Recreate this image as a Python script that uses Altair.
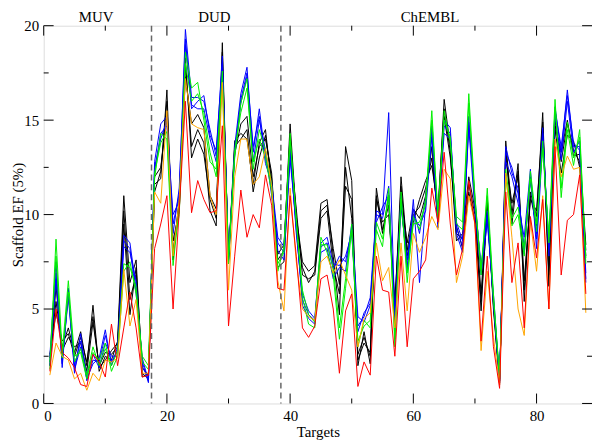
import altair as alt
import pandas as pd

# ---------------- data ----------------
# targets 1..17 MUV, 18..38 DUD, 39..88 ChEMBL
black_a = [2.4,5.4,3.0,4.0,2.7,3.8,2.0,5.2,1.7,2.5,2.3,3.3,11.0,6.4,7.6,1.6,1.3,
           11.6,11.9,16.6,8.0,10.6,17.9,13.6,14.5,13.8,10.2,9.4,19.1,7.4,13.6,14.0,14.5,11.2,13.0,14.2,11.9,7.6,
           8.1,14.8,9.9,7.5,7.0,7.3,10.6,10.8,7.8,4.7,13.6,11.8,2.0,3.8,2.1,11.4,9.2,10.5,5.0,12.0,8.1,10.0,
           10.4,11.4,13.0,9.9,16.1,13.6,9.0,8.7,11.6,10.0,4.9,10.6,5.0,1.1,13.9,10.0,12.7,5.4,11.2,9.9,
           15.4,6.2,15.0,12.8,14.8,13.4,12.8,8.1]
black_b = [2.0,6.2,2.8,3.5,3.0,3.2,1.7,4.3,2.0,2.7,2.6,3.0,9.5,4.7,7.2,1.9,1.5,
           12.0,12.5,15.2,8.6,10.2,17.3,14.8,15.3,14.6,11.0,10.3,18.0,7.8,13.2,14.8,15.2,12.0,13.6,14.0,12.2,7.2,
           7.5,13.5,10.3,6.8,6.6,6.8,9.8,10.2,7.3,5.8,11.5,10.8,2.6,3.5,2.5,10.8,9.6,10.0,5.5,11.0,8.5,10.3,
           9.8,11.0,13.6,9.5,15.2,13.0,9.4,8.2,11.2,9.6,5.4,10.2,5.4,1.2,13.0,10.6,12.0,6.0,11.0,9.4,
           14.6,6.8,14.5,12.2,14.2,13.9,12.5,7.8]
black_c = [2.6,4.8,3.3,3.7,2.5,3.5,2.2,4.6,1.9,2.3,2.8,3.2,10.2,5.5,6.8,1.4,1.6,
           11.2,12.3,16.0,7.6,10.9,18.3,13.0,14.0,13.2,10.8,9.8,18.6,7.6,13.9,14.3,14.0,11.6,13.8,14.5,11.5,7.9,
           8.4,14.2,9.6,7.2,6.4,7.0,10.2,10.5,8.2,6.3,12.5,9.8,2.3,3.2,2.7,11.0,9.0,11.0,4.6,11.5,7.8,9.6,
           10.8,11.8,12.6,10.3,15.6,13.3,8.6,9.0,12.0,10.3,5.8,10.9,5.2,1.0,13.5,9.5,12.3,6.5,10.8,10.2,
           14.9,7.0,14.7,13.3,15.0,13.1,13.2,8.4]
blue_a = [2.5,7.5,1.9,6.1,1.6,3.7,1.2,2.3,2.2,3.6,2.2,2.8,8.9,8.5,6.1,2.2,1.1,
          12.8,14.8,15.2,9.5,11.1,19.8,16.2,16.2,16.0,14.5,13.1,18.4,7.6,13.6,16.4,17.8,13.3,15.6,13.0,11.4,8.5,
          8.0,13.3,9.2,5.5,4.7,4.4,8.3,8.5,7.1,7.8,7.5,9.2,4.1,4.6,5.6,10.2,10.0,15.4,4.5,10.8,7.2,10.8,
          6.4,10.6,14.7,9.6,14.7,14.3,9.3,8.3,15.2,10.6,7.3,9.9,5.5,1.2,13.3,12.5,11.1,8.2,12.0,8.7,
          14.3,8.2,15.7,13.3,16.6,13.6,13.6,6.6]
blue_b = [2.2,6.6,2.3,5.6,2.0,3.3,1.5,2.6,1.9,3.2,2.5,2.5,8.3,8.0,6.5,1.9,1.4,
          12.3,14.3,14.7,10.0,10.7,19.0,15.8,15.6,15.6,14.0,12.8,17.8,7.4,13.1,15.9,17.3,12.8,15.0,13.4,11.0,8.1,
          7.6,12.9,9.5,5.2,4.5,4.2,8.0,8.2,6.6,7.2,7.0,9.5,4.6,4.3,5.2,9.6,10.4,11.0,3.9,10.4,7.6,9.9,
          9.4,10.2,14.1,9.9,14.3,14.0,9.6,8.6,14.6,10.2,6.8,9.6,5.8,1.3,12.8,12.0,10.6,8.8,12.4,8.2,
          13.8,8.6,15.2,12.9,16.0,13.3,13.9,6.9]
blue_c = [2.0,6.9,2.1,5.8,1.8,3.0,1.3,2.1,2.4,3.9,2.0,3.0,8.6,8.2,5.8,2.4,1.2,
          12.5,14.0,15.0,9.0,11.4,19.3,15.6,16.0,16.3,14.2,13.4,18.0,7.9,13.3,16.1,17.5,13.6,15.2,12.7,11.7,8.8,
          8.3,13.6,9.0,5.8,4.9,4.5,8.5,8.8,7.4,7.3,7.8,9.0,3.8,4.8,5.3,10.0,9.8,11.5,4.2,11.0,7.0,10.3,
          9.0,10.9,14.4,9.3,15.0,14.6,9.0,8.0,14.9,10.9,7.0,10.2,5.3,1.1,13.6,12.2,11.4,7.9,11.8,9.0,
          14.6,7.8,15.5,13.6,16.3,13.8,13.4,6.4]
green_a = [1.8,8.7,2.7,6.5,2.5,2.7,1.3,2.7,2.3,3.2,1.7,2.5,7.0,7.5,5.8,2.5,2.0,
           11.9,14.3,14.0,7.3,10.4,18.6,16.7,17.0,15.0,12.8,12.4,17.6,7.8,13.0,15.9,17.2,12.4,14.5,13.4,11.6,7.0,
           8.3,14.3,9.5,6.0,4.7,4.3,8.8,8.0,6.8,3.4,6.1,9.2,3.0,4.4,4.0,9.2,8.3,11.4,3.0,11.2,6.4,9.9,
           9.2,10.8,15.5,9.8,15.5,13.8,9.9,9.6,16.4,11.0,6.8,11.4,5.8,1.3,12.0,9.4,10.0,7.8,12.3,9.5,
           13.5,8.8,16.1,10.9,14.5,12.6,14.5,7.4]
green_b = [2.2,7.8,2.4,5.9,2.2,2.9,1.5,3.0,2.0,2.9,2.0,2.8,7.4,7.2,6.2,2.2,1.8,
           12.2,13.8,14.4,8.0,10.0,18.0,16.0,16.4,15.4,13.3,12.0,17.0,7.4,13.4,15.4,16.7,12.8,14.0,13.0,11.2,7.4,
           8.0,13.9,9.8,5.6,4.2,4.0,8.4,8.4,7.2,4.0,6.6,9.5,3.3,4.1,4.4,9.6,8.7,11.0,3.4,10.8,6.9,9.5,
           9.6,10.5,15.0,10.1,15.0,14.1,9.5,9.2,15.9,10.7,7.1,11.0,5.5,1.4,12.4,9.8,10.4,8.2,11.9,9.1,
           13.9,8.5,15.7,11.4,14.9,13.0,14.1,7.7]
orange_a = [1.5,3.2,2.5,2.3,1.3,1.6,0.7,1.6,1.2,2.3,2.2,2.4,7.1,4.1,5.5,1.6,1.6,
            11.2,10.6,15.5,7.8,10.8,17.2,14.8,14.6,14.5,11.0,10.0,17.0,6.0,12.0,14.0,14.0,11.6,12.0,13.5,11.5,6.5,
            4.9,11.4,7.5,5.0,4.6,4.4,7.5,7.8,6.9,7.6,6.8,6.0,3.0,4.5,4.8,8.5,6.5,7.2,4.0,8.5,4.9,9.0,
            8.0,8.8,9.9,9.2,12.4,11.9,6.4,7.8,11.0,9.5,2.8,7.0,3.5,1.0,12.2,8.8,5.0,3.6,9.7,7.0,
            11.0,5.0,14.0,12.0,13.1,12.4,12.5,4.8]
red_a = [1.7,5.0,2.7,2.4,1.9,1.0,0.9,2.6,2.2,1.4,4.2,2.0,4.0,5.9,4.0,1.4,1.5,
         8.2,9.5,11.0,5.0,10.2,16.0,10.1,11.8,10.8,10.1,10.2,14.7,4.1,7.8,11.3,8.8,10.0,9.3,12.1,10.5,6.1,
         6.0,11.0,7.8,4.0,3.5,4.1,6.6,6.8,5.0,1.6,4.9,5.8,0.9,2.2,1.5,7.8,6.0,5.9,2.5,7.8,3.0,6.6,
         7.0,7.6,11.4,9.6,13.3,9.5,6.8,8.2,11.8,9.5,3.3,7.8,3.0,0.8,11.2,6.4,8.5,4.0,9.9,7.7,
         10.8,5.0,13.6,6.8,9.7,10.0,12.1,5.8]

series = [
    ("black_a", "black", black_a), ("black_b", "black", black_b), ("black_c", "black", black_c),
    ("blue_a", "blue", blue_a), ("blue_b", "blue", blue_b), ("blue_c", "blue", blue_c),
    ("green_a", "green", green_a), ("green_b", "green", green_b),
    ("orange_a", "orange", orange_a), ("red_a", "red", red_a),
]
colors = {"black": "#000000", "blue": "#0000ff", "green": "#00f000",
          "orange": "#ffa500", "red": "#ff0000"}
layer_order = ["black", "blue", "green", "orange", "red"]

section_bounds = [17.5, 38.5]
section_names = ["MUV", "DUD", "ChEMBL"]
section_pos = [8.5, 27.7, 62.7]

x_major = [0, 20, 40, 60, 80]
x_minor = [10, 30, 50, 70]
y_major = [0, 5, 10, 15, 20]
y_minor = [2.5, 7.5, 12.5, 17.5]

rows = []
for name, grp, vals in series:
    for i, v in enumerate(vals):
        rows.append({"target": i + 1, "ef": v, "series": name, "group": grp})
df = pd.DataFrame(rows)

W, H = 553, 381
FONT = "Liberation Serif"

xs = alt.Scale(domain=[0, 89], nice=False)
ys = alt.Scale(domain=[0, 20], nice=False)

xaxis = alt.Axis(values=x_major, ticks=False, domain=False, grid=False,
                 labelFont=FONT, labelFontSize=15, labelColor="black", labelPadding=5,
                 title="Targets", titleFont=FONT, titleFontSize=15, titleFontWeight="normal",
                 titleColor="black", titlePadding=1)
yaxis = alt.Axis(values=y_major, ticks=False, domain=False, grid=False,
                 labelFont=FONT, labelFontSize=15, labelColor="black", labelPadding=5,
                 title="Scaffold EF (5%)", titleFont=FONT, titleFontSize=15,
                 titleFontWeight="normal", titleColor="black", titleX=-18, titleY=H / 2)


def X(field):
    return alt.X(field, scale=xs, axis=xaxis)


def Y(field):
    return alt.Y(field, scale=ys, axis=yaxis)


layers = []
for g in layer_order:
    layers.append(
        alt.Chart(df).transform_filter(alt.datum.group == g)
        .mark_line(color=colors[g], strokeWidth=1)
        .encode(x=X("target:Q"), y=Y("ef:Q"), detail="series:N")
    )

bounds_df = pd.DataFrame({"target": section_bounds})
dashes = alt.Chart(bounds_df).mark_rule(color="#666666", strokeDash=[6, 4], strokeWidth=1.5).encode(
    x=X("target:Q"), y=alt.value(0), y2=alt.value(H))

lab_df = pd.DataFrame({"target": section_pos, "name": section_names})
labels = alt.Chart(lab_df).mark_text(font=FONT, fontSize=15, color="black",
                                     baseline="alphabetic", align="center").encode(
    x=X("target:Q"), y=alt.value(-4), text="name:N")


def ticks_x(vals, length):
    d = pd.DataFrame({"target": vals})
    b = alt.Chart(d).mark_rule(color="black", strokeWidth=1).encode(
        x=X("target:Q"), y=alt.value(H), y2=alt.value(H - length))
    t = alt.Chart(d).mark_rule(color="black", strokeWidth=1).encode(
        x=X("target:Q"), y=alt.value(0), y2=alt.value(length))
    return [b, t]


def ticks_y(vals, length):
    d = pd.DataFrame({"ef": vals})
    l = alt.Chart(d).mark_rule(color="black", strokeWidth=1).encode(
        y=Y("ef:Q"), x=alt.value(0), x2=alt.value(length))
    r = alt.Chart(d).mark_rule(color="black", strokeWidth=1).encode(
        y=Y("ef:Q"), x=alt.value(W), x2=alt.value(W - length))
    return [l, r]


tick_layers = ticks_x(x_major, 10) + ticks_x(x_minor, 5) + ticks_y(y_major, 10) + ticks_y(y_minor, 5)

chart = alt.layer(*layers, dashes, labels, *tick_layers).properties(
    width=W, height=H,
    padding={"left": 36, "top": 16, "right": 0, "bottom": 36},
    autosize=alt.AutoSizeParams(type="none"),
).configure_view(stroke="black", strokeWidth=1).configure(background="white")

chart.save("out.html", embed_options={"renderer": "svg", "actions": False})
